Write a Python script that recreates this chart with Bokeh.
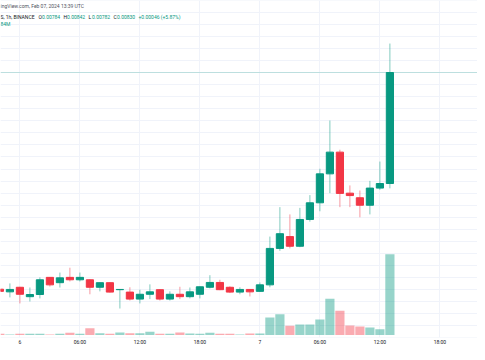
import pandas as pd
from bokeh.plotting import figure
from bokeh.models import Range1d, FixedTicker, Span, Label, ColumnDataSource
from bokeh.embed import file_html
from bokeh.resources import INLINE

# BINANCE 1h candles, 2024-02-05 22:00 .. 2024-02-07 13:00 UTC
times = pd.date_range("2024-02-05 22:00", "2024-02-07 13:00", freq="h")
opens = [0.007402, 0.007391, 0.007410, 0.007371, 0.007380, 0.007451, 0.007429, 0.007451,
         0.007441, 0.007441, 0.007410, 0.007429, 0.007400, 0.007390, 0.007361, 0.007381,
         0.007400, 0.007361, 0.007381, 0.007371, 0.007381, 0.007410, 0.007430, 0.007410,
         0.007390, 0.007401, 0.007393, 0.007420, 0.007571, 0.007620, 0.007580, 0.007691,
         0.007760, 0.007880, 0.007970, 0.007800, 0.007781, 0.007750, 0.007821, 0.007840]
highs = [0.007404, 0.007426, 0.007412, 0.007409, 0.007451, 0.007452, 0.007471, 0.007491,
         0.007471, 0.007443, 0.007430, 0.007431, 0.007401, 0.007410, 0.007400, 0.007422,
         0.007402, 0.007393, 0.007412, 0.007409, 0.007413, 0.007460, 0.007441, 0.007414,
         0.007410, 0.007402, 0.007430, 0.007620, 0.007742, 0.007712, 0.007739, 0.007792,
         0.007901, 0.008101, 0.007980, 0.007832, 0.007811, 0.007851, 0.007931, 0.008420]
lows = [0.007391, 0.007368, 0.007343, 0.007351, 0.007364, 0.007413, 0.007409, 0.007434,
        0.007434, 0.007381, 0.007393, 0.007388, 0.007322, 0.007355, 0.007343, 0.007361,
        0.007355, 0.007355, 0.007361, 0.007364, 0.007364, 0.007405, 0.007398, 0.007386,
        0.007381, 0.007372, 0.007391, 0.007410, 0.007561, 0.007571, 0.007576, 0.007682,
        0.007725, 0.007800, 0.007742, 0.007742, 0.007700, 0.007712, 0.007814, 0.007820]
closes = [0.007393, 0.007401, 0.007381, 0.007380, 0.007441, 0.007420, 0.007449, 0.007441,
          0.007451, 0.007410, 0.007429, 0.007390, 0.007401, 0.007361, 0.007381, 0.007391,
          0.007361, 0.007381, 0.007371, 0.007391, 0.007412, 0.007430, 0.007400, 0.007390,
          0.007401, 0.007391, 0.007420, 0.007571, 0.007632, 0.007580, 0.007691, 0.007760,
          0.007880, 0.007970, 0.007799, 0.007790, 0.007750, 0.007821, 0.007840, 0.008300]
volumes = [1.2, 0.5, 1.2, 1.2, 1.2, 0.5, 1.2, 2.3,
           1.2, 7.1, 1.9, 1.2, 2.6, 1.9, 1.9, 3.3,
           1.2, 1.2, 2.6, 1.6, 1.2, 2.3, 1.2, 1.2,
           0.5, 1.6, 1.6, 18.2, 21.6, 9.6, 10.9, 10.9,
           16.1, 37.6, 25.2, 9.9, 8.8, 7.8, 6.0, 84.0]

tick_hours = [0, 6, 12, 18, 24, 30, 36, 42]
tick_labels = ["6", "06:00", "12:00", "18:00", "7", "06:00", "12:00", "18:00"]

header_line1 = "ingView.com, Feb 07, 2024 13:39 UTC"
header_symbol = "S, 1h, BINANCE"
ohlc_names = ["O", "H", "L", "C"]
ohlc_texts = ["0.00784", "0.00842", "0.00782", "0.00830"]
change_text = "+0.00046 (+5.87%)"
volume_text = "84M"

GREEN = "#089981"
RED = "#f23645"
GRID = "#f0f3fa"

hours = ((times - pd.Timestamp("2024-02-06 00:00")) / pd.Timedelta(hours=1)).tolist()
colors = [GREEN if c >= o else RED for o, c in zip(opens, closes)]
src = ColumnDataSource(dict(
    x=hours, o=opens, h=highs, l=lows, c=closes,
    top=[max(o, c) for o, c in zip(opens, closes)],
    bottom=[min(o, c) for o, c in zip(opens, closes)],
    vol=volumes, color=colors,
))

p = figure(width=477, height=352,
           x_range=Range1d(-1.94, 45.76),
           y_range=Range1d(0.00720184, 0.008598368),
           output_backend="svg", toolbar_location=None,
           y_axis_location=None,
           min_border_left=0, min_border_right=0, min_border_top=0, min_border_bottom=15,
           background_fill_color="white", border_fill_color="white",
           outline_line_color=None)
p.extra_y_ranges = {"vol": Range1d(-2.6, 347.7)}

p.vbar(x="x", width=0.92, top="vol", bottom=0, y_range_name="vol",
       fill_color="color", fill_alpha=0.42, line_color=None, source=src)
p.segment(x0="x", y0="l", x1="x", y1="h", line_color="color", line_alpha=0.5,
          line_width=1, source=src)
p.vbar(x="x", width=0.72, top="top", bottom="bottom", fill_color="color",
       line_color="color", line_width=1, source=src)

p.add_layout(Span(location=closes[-1], dimension="width", line_color=GREEN,
                  line_alpha=0.22, line_width=1))

# grids
p.xgrid.ticker = FixedTicker(ticks=tick_hours)
p.ygrid.ticker = FixedTicker(ticks=[round(0.0072 + 0.00005 * i, 5) for i in range(29)])
p.xgrid.grid_line_color = GRID
p.ygrid.grid_line_color = GRID

# time axis
ax = p.xaxis[0]
ax.ticker = FixedTicker(ticks=tick_hours)
ax.major_label_overrides = {h: t for h, t in zip(tick_hours, tick_labels)}
ax.axis_line_color = None
ax.major_tick_line_color = None
ax.minor_tick_line_color = None
ax.major_tick_out = 0
ax.major_tick_in = 0
ax.minor_tick_out = 0
ax.minor_tick_in = 0
ax.major_label_standoff = 1
ax.major_label_text_font = "Roboto"
ax.major_label_text_font_size = "5px"
ax.major_label_text_color = "#131722"

# legend header
def header(x, y, text, color):
    p.add_layout(Label(x=x, x_units="screen", y=y, y_units="data", text=text,
                       text_font="Roboto", text_font_size="5px", text_color=color,
                       text_baseline="middle", text_align="left"))

y1, y2, y3 = 0.0085756, 0.0085290, 0.0085010
header(0, y1, header_line1, "#50535e")
header(0, y2, header_symbol, "#131722")
for i, (n, t) in enumerate(zip(ohlc_names, ohlc_texts)):
    header(38 + 25 * i, y2, n, "#131722")
    header(41.5 + 25 * i, y2, t, GREEN)
header(138, y2, change_text, GREEN)
header(0, y3, volume_text, GREEN)

open("out.html", "w").write(file_html(p, INLINE))
